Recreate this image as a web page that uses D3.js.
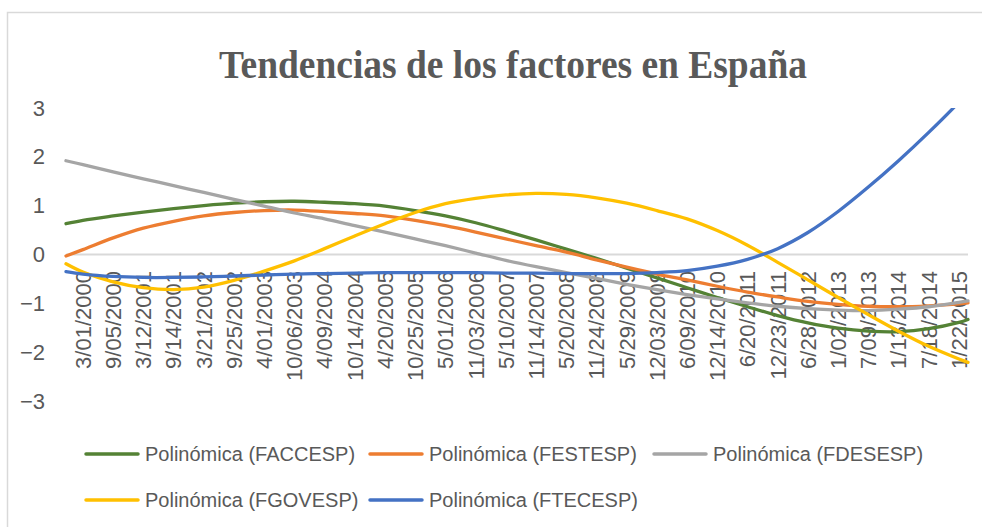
<!DOCTYPE html>
<html>
<head>
<meta charset="utf-8">
<script src="https://cdn.jsdelivr.net/npm/d3@7/dist/d3.min.js"></script>
<style>
	body { margin: 0; background: #fff; }
	text { font-family: 'Liberation Sans', Arial, sans-serif; fill: #595959; }
</style>
</head>
<body>
<div id="my_dataviz"></div>
<script>
// category labels shown on the x axis (every ~6 months)
const dateLabels = [
	'3/01/2000', '9/05/2000', '3/12/2001', '9/14/2001', '3/21/2002', '9/25/2002',
	'4/01/2003', '10/06/2003', '4/09/2004', '10/14/2004', '4/20/2005', '10/25/2005',
	'5/01/2006', '11/03/2006', '5/10/2007', '11/14/2007', '5/20/2008', '11/24/2008',
	'5/29/2009', '12/03/2009', '6/09/2010', '12/14/2010', '6/20/2011', '12/23/2011',
	'6/28/2012', '1/02/2013', '7/09/2013', '1/13/2014', '7/18/2014', '1/22/2015'
];

// position of each sample in label units: first data point, each label, last data point
const sampleIdx = [-0.56, 0, 1, 2, 3, 4, 5, 6, 7, 8, 9, 10, 11, 12, 13, 14, 15, 16, 17, 18, 19,
	20, 21, 22, 23, 24, 25, 26, 27, 28, 29, 29.3];

// trend values
const faccesp = [0.63, 0.70, 0.79, 0.87, 0.94, 1.00, 1.05, 1.08, 1.09, 1.07, 1.04, 0.99, 0.90,
	0.79, 0.65, 0.48, 0.30, 0.11, -0.08, -0.28, -0.48, -0.68, -0.88, -1.07, -1.25, -1.40, -1.51,
	-1.57, -1.58, -1.52, -1.39, -1.33];
const festesp = [-0.03, 0.10, 0.34, 0.54, 0.68, 0.79, 0.86, 0.90, 0.91, 0.88, 0.84, 0.79, 0.70,
	0.59, 0.46, 0.32, 0.18, 0.05, -0.11, -0.26, -0.40, -0.52, -0.65, -0.77, -0.87, -0.96, -1.02,
	-1.06, -1.07, -1.05, -1.01, -0.99];
const fdesesp = [1.92, 1.84, 1.69, 1.55, 1.41, 1.27, 1.13, 0.99, 0.85, 0.73, 0.59, 0.46, 0.32,
	0.18, 0.03, -0.12, -0.25, -0.37, -0.49, -0.61, -0.72, -0.82, -0.91, -0.99, -1.06, -1.11, -1.14,
	-1.15, -1.12, -1.07, -0.98, -0.95];
const fgovesp = [-0.19, -0.36, -0.56, -0.68, -0.72, -0.67, -0.53, -0.34, -0.13, 0.12, 0.38, 0.63,
	0.86, 1.04, 1.15, 1.22, 1.25, 1.23, 1.16, 1.05, 0.90, 0.73, 0.49, 0.19, -0.16, -0.52, -0.88,
	-1.23, -1.57, -1.88, -2.14, -2.21];
const ftecesp = [-0.35, -0.40, -0.45, -0.47, -0.47, -0.46, -0.44, -0.42, -0.40, -0.39, -0.38,
	-0.37, -0.37, -0.37, -0.37, -0.38, -0.38, -0.39, -0.39, -0.39, -0.37, -0.33, -0.24, -0.10, 0.12,
	0.45, 0.88, 1.38, 1.92, 2.50, 3.12, 3.33];

const seriesNames = ['FACCESP', 'FESTESP', 'FDESESP', 'FGOVESP', 'FTECESP'];
const seriesValues = [faccesp, festesp, fdesesp, fgovesp, ftecesp];
const seriesColors = ['#548235', '#ED7D31', '#A5A5A5', '#FFC000', '#4472C4'];
const yTicks = [-3, -2, -1, 0, 1, 2, 3];

const dimensions = {
	width  : 982,
	height : 527,
	plot   : { left: 66, right: 968, top: 108, bottom: 401 }
};

const svg = d3.select('#my_dataviz').append('svg')
	.attr('width', dimensions.width)
	.attr('height', dimensions.height);

// chart border (runs off the right and bottom of the picture)
svg.append('rect')
	.attr('x', 7.5).attr('y', 12.5)
	.attr('width', 990).attr('height', 530)
	.attr('fill', 'none')
	.attr('stroke', '#d9d9d9')
	.attr('stroke-width', 1.5);

svg.append('text')
	.attr('x', 513).attr('y', 78)
	.attr('text-anchor', 'middle')
	.attr('textLength', 588)
	.attr('lengthAdjust', 'spacingAndGlyphs')
	.style('font-family', "'Liberation Serif', 'Times New Roman', serif")
	.style('font-weight', 'bold')
	.style('font-size', '39px')
	.text('Tendencias de los factores en España');

const x = d3.scaleLinear()
	.domain([sampleIdx[0], sampleIdx[sampleIdx.length - 1]])
	.range([dimensions.plot.left, dimensions.plot.right]);

const y = d3.scaleLinear()
	.domain([-3, 3])
	.range([dimensions.plot.bottom, dimensions.plot.top]);

svg.append('defs').append('clipPath')
	.attr('id', 'plot-clip')
	.append('rect')
	.attr('x', dimensions.plot.left - 2)
	.attr('y', dimensions.plot.top)
	.attr('width', dimensions.plot.right - dimensions.plot.left + 4)
	.attr('height', dimensions.plot.bottom - dimensions.plot.top);

// y axis labels, no axis line
const yAxis = d3.axisLeft(y).tickValues(yTicks).tickSize(0).tickPadding(0).tickFormat(d3.format('d'));
const yG = svg.append('g').attr('transform', 'translate(45,0)').call(yAxis);
yG.select('.domain').remove();
yG.selectAll('text')
	.style('font-size', '22px')
	.style('fill', '#595959')
	.style('font-family', "'Liberation Sans', Arial, sans-serif");

// horizontal axis line at zero
svg.append('line')
	.attr('x1', dimensions.plot.left).attr('x2', dimensions.plot.right)
	.attr('y1', y(0)).attr('y2', y(0))
	.attr('stroke', '#d9d9d9')
	.attr('stroke-width', 2);

// rotated category labels hanging under the zero line
svg.append('g').selectAll('text')
	.data(dateLabels)
	.enter()
	.append('text')
	.attr('transform', (d, i) => `translate(${x(i)},271) rotate(-90)`)
	.attr('text-anchor', 'end')
	.attr('dy', '0.36em')
	.style('font-size', '22px')
	.text(d => d);

const line = d3.line()
	.x((d, i) => x(sampleIdx[i]))
	.y(d => y(d))
	.curve(d3.curveCatmullRom.alpha(0.5));

svg.append('g')
	.attr('clip-path', 'url(#plot-clip)')
	.selectAll('path')
	.data(seriesValues)
	.enter()
	.append('path')
	.attr('d', d => line(d))
	.attr('fill', 'none')
	.attr('stroke', (d, i) => seriesColors[i])
	.attr('stroke-width', 3.3)
	.attr('stroke-linecap', 'round');

// legend: 3 columns, 2 rows
const legend = svg.append('g').attr('transform', 'translate(86,454)');
const items = legend.selectAll('g')
	.data(seriesNames)
	.enter()
	.append('g')
	.attr('transform', (d, i) => `translate(${(i % 3) * 284},${Math.floor(i / 3) * 46})`);

items.append('line')
	.attr('x1', 0).attr('x2', 52)
	.attr('y1', 0).attr('y2', 0)
	.attr('stroke', (d, i) => seriesColors[i])
	.attr('stroke-width', 3.5)
	.attr('stroke-linecap', 'round');

items.append('text')
	.attr('x', 59)
	.attr('dy', '0.36em')
	.style('font-size', '20px')
	.text(d => 'Polinómica (' + d + ')');
</script>
</body>
</html>
